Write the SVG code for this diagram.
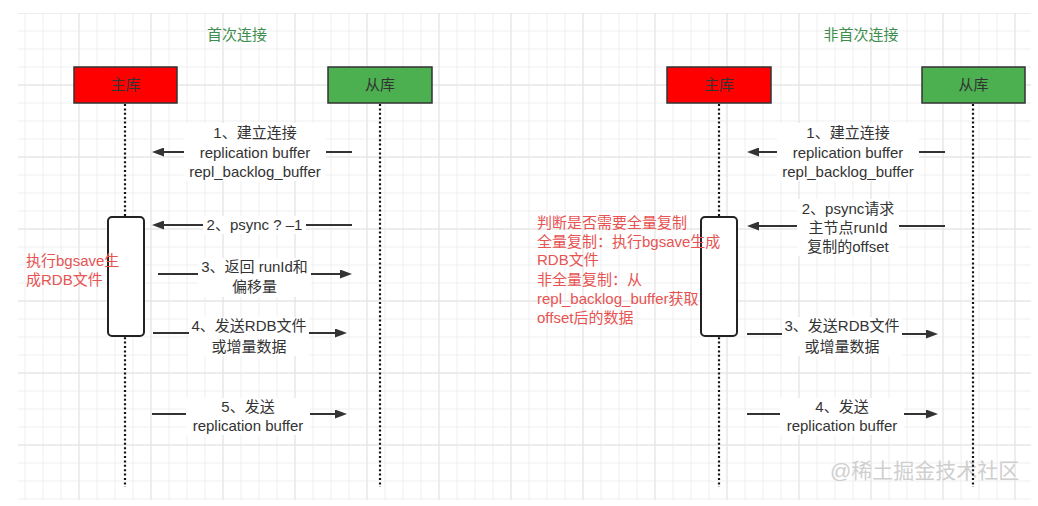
<svg xmlns="http://www.w3.org/2000/svg" width="1038" height="506" viewBox="0 0 1038 506">
  <style>
    text { font-family: 'Liberation Sans', 'Noto Sans CJK SC', sans-serif; }
    .lbl { font-size: 15px; fill: #333; text-anchor: middle; }
    .title { font-size: 15px; fill: #3e8e4e; text-anchor: middle; }
    .note { font-size: 15px; fill: #e65353; }
    .boxlbl { font-size: 15px; fill: #333; text-anchor: middle; }
    .bg { fill: #ffffff; }
    .life { stroke: #111; stroke-width: 2.2; stroke-dasharray: 2 2.4; fill: none; }
    .msg { stroke: #333; stroke-width: 2; fill: none; marker-end: url(#arrow); }
    .act { fill: #ffffff; stroke: #222; stroke-width: 2; }
    .master { fill: #ff0000; stroke: #333; stroke-width: 1.5; }
    .slave { fill: #4caf50; stroke: #333; stroke-width: 1.5; }
  </style>
  <defs>
    <pattern id="gridMinor" x="24.5" y="12.5" width="18" height="18" patternUnits="userSpaceOnUse">
      <path d="M0.5 0 V18 M0 0.5 H18" stroke="#efefef" stroke-width="1" fill="none"/>
    </pattern>
    <pattern id="gridMajor" x="78.5" y="12.5" width="72" height="72" patternUnits="userSpaceOnUse">
      <path d="M0.5 0 V72 M0 0.5 H72" stroke="#e3e3e3" stroke-width="1" fill="none"/>
    </pattern>
    <marker id="arrow" markerWidth="12" markerHeight="9" refX="8" refY="4.5" orient="auto" markerUnits="userSpaceOnUse">
      <path d="M0,0 L12,4.5 L0,9 Z" fill="#333"/>
    </marker>
  </defs>

  <!-- background grid -->
  <rect width="1038" height="506" fill="#ffffff"/>
  <rect x="18" y="13" width="1013" height="487" fill="url(#gridMinor)"/>
  <rect x="18" y="13" width="1013" height="487" fill="url(#gridMajor)"/>

  <!-- section titles -->
  <text class="title" x="237" y="40">首次连接</text>
  <text class="title" x="861" y="40">非首次连接</text>

  <!-- watermark -->
  <text x="830" y="478" font-size="21" fill="#cfcfcf">@稀土掘金技术社区</text>

  <!-- lifelines -->
  <g id="lifelines">
    <line class="life" x1="125" y1="104" x2="125" y2="487"/>
    <line class="life" x1="380" y1="104" x2="380" y2="487"/>
    <line class="life" x1="719" y1="104" x2="719" y2="487"/>
    <line class="life" x1="973" y1="104" x2="973" y2="487"/>
  </g>

  <!-- participants -->
  <g id="master-1">
    <rect class="master" x="74" y="67" width="103" height="36"/>
    <text class="boxlbl" x="125.5" y="90">主库</text>
  </g>
  <g id="slave-1">
    <rect class="slave" x="328" y="67" width="104" height="36"/>
    <text class="boxlbl" x="380" y="90">从库</text>
  </g>
  <g id="master-2">
    <rect class="master" x="667" y="67" width="104" height="36"/>
    <text class="boxlbl" x="719" y="90">主库</text>
  </g>
  <g id="slave-2">
    <rect class="slave" x="922" y="67" width="103" height="36"/>
    <text class="boxlbl" x="973.5" y="90">从库</text>
  </g>

  <!-- activation bars -->
  <g id="activation-1">
    <rect class="act" x="108" y="217" width="36" height="119" rx="4"/>
  </g>
  <g id="activation-2">
    <rect class="act" x="701" y="217" width="36" height="119" rx="4"/>
  </g>

  <!-- messages -->
  <g id="connectors">
    <line class="msg" x1="352" y1="152" x2="156" y2="152"/>
    <line class="msg" x1="352" y1="225" x2="156" y2="225"/>
    <line class="msg" x1="158" y1="274" x2="348" y2="274"/>
    <line class="msg" x1="153" y1="333" x2="343" y2="333"/>
    <line class="msg" x1="152" y1="414" x2="343" y2="414"/>

    <line class="msg" x1="945" y1="152" x2="751" y2="152"/>
    <line class="msg" x1="945" y1="226" x2="751" y2="226"/>
    <line class="msg" x1="747" y1="334" x2="934" y2="334"/>
    <line class="msg" x1="747" y1="414" x2="934" y2="414"/>
  </g>

  <!-- message labels, first connection -->
  <g id="label-1-1">
    <rect class="bg" x="184" y="123" width="142" height="58"/>
    <text class="lbl" x="255" y="138">1、建立连接</text>
    <text class="lbl" x="255" y="158">replication buffer</text>
    <text class="lbl" x="255" y="177">repl_backlog_buffer</text>
  </g>
  <g id="label-1-2">
    <rect class="bg" x="203" y="216" width="103" height="18"/>
    <text class="lbl" x="254.5" y="230">2、psync ? –1</text>
  </g>
  <g id="label-1-3">
    <rect class="bg" x="198" y="258" width="113" height="39"/>
    <text class="lbl" x="254.5" y="272">3、返回 runId和</text>
    <text class="lbl" x="254.5" y="292">偏移量</text>
  </g>
  <g id="label-1-4">
    <rect class="bg" x="189" y="317" width="120" height="39"/>
    <text class="lbl" x="249" y="331">4、发送RDB文件</text>
    <text class="lbl" x="249" y="352">或增量数据</text>
  </g>
  <g id="label-1-5">
    <rect class="bg" x="186" y="398" width="124" height="37"/>
    <text class="lbl" x="248" y="412">5、发送</text>
    <text class="lbl" x="248" y="431">replication buffer</text>
  </g>

  <!-- message labels, reconnection -->
  <g id="label-2-1">
    <rect class="bg" x="777" y="123" width="142" height="58"/>
    <text class="lbl" x="848" y="138">1、建立连接</text>
    <text class="lbl" x="848" y="158">replication buffer</text>
    <text class="lbl" x="848" y="177">repl_backlog_buffer</text>
  </g>
  <g id="label-2-2">
    <rect class="bg" x="797" y="199" width="102" height="57"/>
    <text class="lbl" x="848" y="214">2、psync请求</text>
    <text class="lbl" x="848" y="233">主节点runId</text>
    <text class="lbl" x="848" y="252">复制的offset</text>
  </g>
  <g id="label-2-3">
    <rect class="bg" x="782" y="317" width="120" height="39"/>
    <text class="lbl" x="842" y="331">3、发送RDB文件</text>
    <text class="lbl" x="842" y="352">或增量数据</text>
  </g>
  <g id="label-2-4">
    <rect class="bg" x="780" y="398" width="124" height="37"/>
    <text class="lbl" x="842" y="412">4、发送</text>
    <text class="lbl" x="842" y="431">replication buffer</text>
  </g>

  <!-- master-side notes -->
  <g id="note-1">
    <text class="note" x="26" y="266">执行bgsave生</text>
    <text class="note" x="26" y="285">成RDB文件</text>
  </g>
  <g id="note-2">
    <text class="note" x="537" y="228">判断是否需要全量复制</text>
    <text class="note" x="537" y="247">全量复制：执行bgsave生成</text>
    <text class="note" x="537" y="265">RDB文件</text>
    <text class="note" x="537" y="285">非全量复制：从</text>
    <text class="note" x="537" y="304">repl_backlog_buffer获取</text>
    <text class="note" x="537" y="323">offset后的数据</text>
  </g>
</svg>
